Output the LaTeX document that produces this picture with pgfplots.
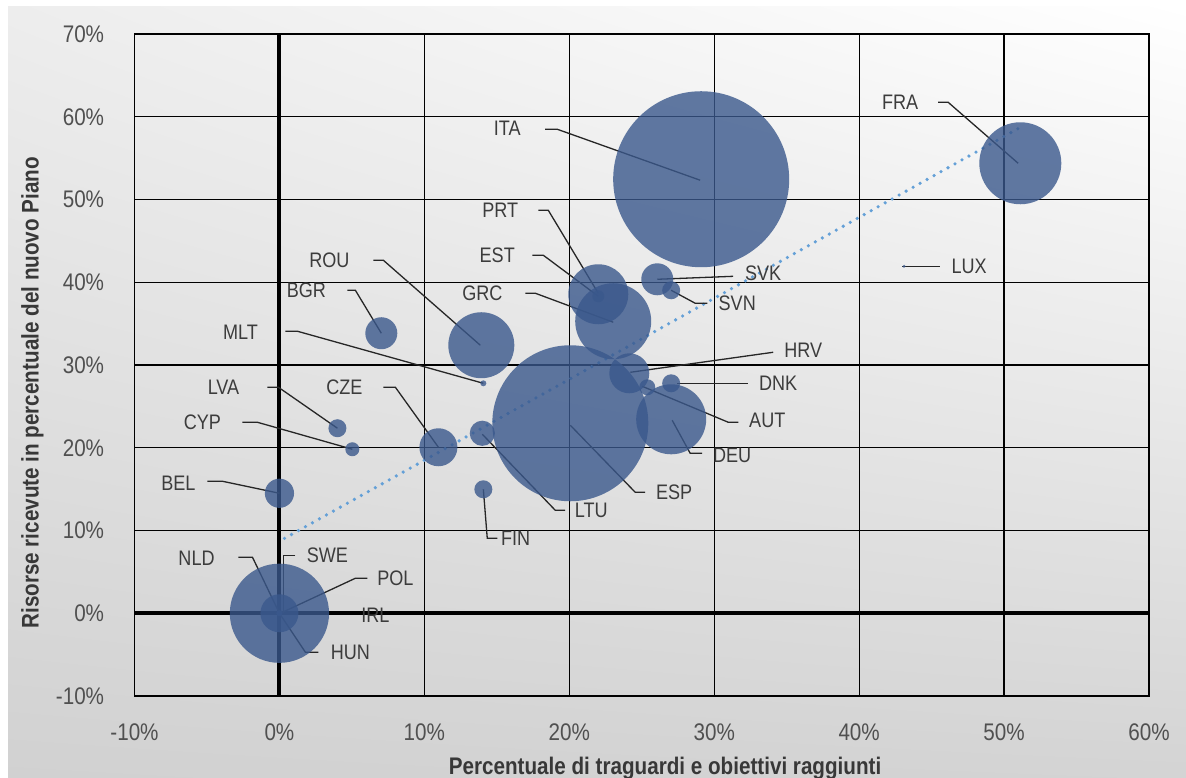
\documentclass[border=0pt]{standalone}
\usepackage{pgfplots}
\pgfplotsset{compat=1.18}
\usetikzlibrary{shadings}
\usepackage{fontspec}
\setmainfont{Liberation Sans}[FakeStretch=0.86]

\definecolor{bubble}{RGB}{58,88,140}
\definecolor{trend}{RGB}{100,160,215}
\definecolor{txt}{RGB}{60,60,60}
\definecolor{ticktxt}{RGB}{80,80,80}

% x = % traguardi raggiunti, y = % risorse ricevute, r = raggio bolla (pt)
\pgfplotstableread{
name x     y     r
ESP  20.07 22.96 39
ITA  29.10 52.45 44
POL  0.00  0.00  24.8
FRA  51.12 54.38 20.5
GRC  23.03 35.29 19
DEU  27.03 23.44 17.5
ROU  13.93 32.39 16.5
PRT  22.00 38.55 15
HRV  24.14 29.00 10
CZE  10.97 20.06 9.5
HUN  0.00  0.00  9.5
SVK  26.07 40.36 8
BGR  7.03  33.84 8
BEL  0.00  14.50 7.3
LTU  14.00 21.75 6.3
SVN  27.03 39.03 4.5
DNK  27.03 27.79 4.5
FIN  14.07 14.98 4.5
LVA  4.00  22.36 4.5
AUT  25.38 27.31 4
CYP  5.03  19.82 3.5
EST  22.00 38.31 3
MLT  14.07 27.79 1.5
NLD  0.00  0.00  1.5
SWE  0.00  0.00  1.5
IRL  0.00  0.00  1
LUX  43.10 41.93 0.8
}\bubbles

\begin{document}
\begin{tikzpicture}[
  lead/.style={draw=black!85, line width=0.65pt},
  lab/.style={font=\fontsize{10.5}{12}\selectfont, text=txt, inner sep=0pt}
]
\fill[white] (0,0) rectangle (593pt,388.5pt);
\shade[upper left=black!7, upper right=white, lower left=black!18, lower right=black!17]
  (4pt,0) rectangle (593pt,385pt);

\begin{axis}[
  at={(67.25pt,40.5pt)}, anchor=south west,
  width=507.25pt, height=331pt, scale only axis,
  xmin=-10, xmax=60, ymin=-10, ymax=70,
  xtick={-10,0,...,60}, ytick={-10,0,...,70},
  xticklabels={-10\%,0\%,10\%,20\%,30\%,40\%,50\%,60\%},
  yticklabels={-10\%,0\%,10\%,20\%,30\%,40\%,50\%,60\%,70\%},
  major tick length=0pt,
  tick label style={font=\fontsize{12}{14}\selectfont, text=ticktxt, inner sep=0pt},
  xticklabel style={anchor=center, yshift=-18pt},
  yticklabel style={anchor=east, xshift=-15pt},
  axis line style={black, line width=0.6pt},
  grid=major,
  major grid style={black, line width=0.6pt},
  extra x ticks={0}, extra y ticks={0},
  extra x tick labels={}, extra y tick labels={},
  extra tick style={grid=major, major grid style={black, line width=2pt}},
  label style={font=\bfseries\fontsize{12}{14}\selectfont, text=black!78},
  xlabel={Percentuale di traguardi e obiettivi raggiunti},
  xlabel style={at={([yshift=-36pt]axis description cs:0.523,0)}, anchor=center},
  ylabel={Risorse ricevute in percentuale del nuovo Piano},
  ylabel style={at={([xshift=-51pt]axis description cs:0,0.458)}, anchor=center, rotate=0},
  clip=false
]
\addplot[scatter, only marks, mark=*, point meta=explicit,
  mark options={draw opacity=0, fill=bubble, fill opacity=0.8},
  scatter/use mapped color={draw opacity=0, fill=bubble, fill opacity=0.8},
  visualization depends on={\thisrow{r} \as \rad},
  scatter/@pre marker code/.append style={/tikz/mark size=\rad}]
  table[x=x, y=y, meta=r] {\bubbles};

% linea di tendenza
\addplot[trend, line width=1.8pt, line cap=round, dash pattern=on 0pt off 4pt]
  coordinates {(0.35,9.05) (51.0,58.6)};

% etichette e linee di richiamo
\draw[lead] (axis cs:45.45,61.75) -- (axis cs:46.14,61.75) -- (axis cs:50.97,54.38);
\node[lab] at (axis cs:42.83,61.75) {FRA};
\draw[lead] (axis cs:18.34,58.49) -- (axis cs:19.17,58.49) -- (axis cs:29.03,52.33);
\node[lab] at (axis cs:15.72,58.61) {ITA};
\draw[lead] (axis cs:17.86,48.70) -- (axis cs:18.55,48.70) -- (axis cs:22.0,38.67);
\node[lab] at (axis cs:15.24,48.70) {PRT};
\draw[lead] (axis cs:17.45,43.26) -- (axis cs:18.21,43.26) -- (axis cs:22.0,38.31);
\node[lab] at (axis cs:15.03,43.26) {EST};
\draw[lead] (axis cs:16.97,38.67) -- (axis cs:17.66,38.67) -- (axis cs:23.03,35.17);
\node[lab] at (axis cs:14.0,38.67) {GRC};
\draw[lead] (axis cs:6.48,42.66) -- (axis cs:7.17,42.66) -- (axis cs:13.86,32.39);
\node[lab] at (axis cs:3.45,42.66) {ROU};
\draw[lead] (axis cs:4.69,39.03) -- (axis cs:5.24,39.03) -- (axis cs:7.03,33.84);
\node[lab] at (axis cs:1.86,39.03) {BGR};
\draw[lead] (axis cs:0.41,34.08) -- (axis cs:1.24,34.08) -- (axis cs:14.07,27.79);
\node[lab] at (axis cs:-2.69,33.96) {MLT};
\draw[lead] (axis cs:-0.83,27.31) -- (axis cs:-0.07,27.31) -- (axis cs:4.0,22.36);
\node[lab] at (axis cs:-3.86,27.31) {LVA};
\draw[lead] (axis cs:-2.55,23.08) -- (axis cs:-1.52,23.08) -- (axis cs:5.03,19.82);
\node[lab] at (axis cs:-5.31,23.08) {CYP};
\draw[lead] (axis cs:-4.97,15.95) -- (axis cs:-3.93,15.95) -- (axis cs:0,14.50);
\node[lab] at (axis cs:-6.97,15.71) {BEL};
\draw[lead] (axis cs:7.17,27.31) -- (axis cs:8.0,27.31) -- (axis cs:10.97,20.06);
\node[lab] at (axis cs:4.48,27.31) {CZE};
\draw[lead] (axis cs:14.0,21.63) -- (axis cs:19.03,12.45) -- (axis cs:19.72,12.45);
\node[lab] at (axis cs:21.52,12.45) {LTU};
\draw[lead] (axis cs:14.07,14.98) -- (axis cs:14.34,9.06) -- (axis cs:15.03,9.06);
\node[lab] at (axis cs:16.3,9.06) {FIN};
\draw[lead] (axis cs:20.07,22.72) -- (axis cs:24.55,14.62) -- (axis cs:25.24,14.62);
\node[lab] at (axis cs:27.24,14.62) {ESP};
\draw[lead] (axis cs:27.10,23.32) -- (axis cs:28.34,19.34) -- (axis cs:29.17,19.34);
\node[lab] at (axis cs:31.24,19.09) {DEU};
\draw[lead] (axis cs:25.03,27.43) -- (axis cs:30.97,23.08) -- (axis cs:31.66,23.08);
\node[lab] at (axis cs:33.66,23.32) {AUT};
\draw[lead] (axis cs:27.45,27.79) -- (axis cs:32.34,27.79);
\node[lab] at (axis cs:34.41,27.79) {DNK};
\draw[lead] (axis cs:24.21,29.12) -- (axis cs:34.07,31.54);
\node[lab] at (axis cs:36.14,31.78) {HRV};
\draw[lead] (axis cs:27.03,39.03) -- (axis cs:28.69,37.46) -- (axis cs:29.52,37.46);
\node[lab] at (axis cs:31.59,37.46) {SVN};
\draw[lead] (axis cs:26.07,40.36) -- (axis cs:31.31,40.72);
\node[lab] at (axis cs:33.38,41.09) {SVK};
\draw[lead] (axis cs:42.97,41.93) -- (axis cs:45.59,41.93);
\node[lab] at (axis cs:47.59,41.93) {LUX};
\draw[lead] (axis cs:-2.83,6.77) -- (axis cs:-1.86,6.77) -- (axis cs:0,0);
\node[lab] at (axis cs:-5.72,6.65) {NLD};
\draw[lead] (axis cs:1.10,7.01) -- (axis cs:0.28,7.01) -- (axis cs:0.28,0);
\node[lab] at (axis cs:3.31,7.01) {SWE};
\draw[lead] (axis cs:6.07,4.23) -- (axis cs:5.24,4.23) -- (axis cs:0.21,0.12);
\node[lab] at (axis cs:8.0,4.23) {POL};
\node[lab] at (axis cs:6.62,-0.24) {IRL};
\draw[lead] (axis cs:2.69,-4.71) -- (axis cs:1.79,-4.71) -- (axis cs:0,0);
\node[lab] at (axis cs:4.90,-4.71) {HUN};
\end{axis}
\pgfresetboundingbox
\useasboundingbox (0,0) rectangle (593pt,388.5pt);
\end{tikzpicture}
\end{document}
